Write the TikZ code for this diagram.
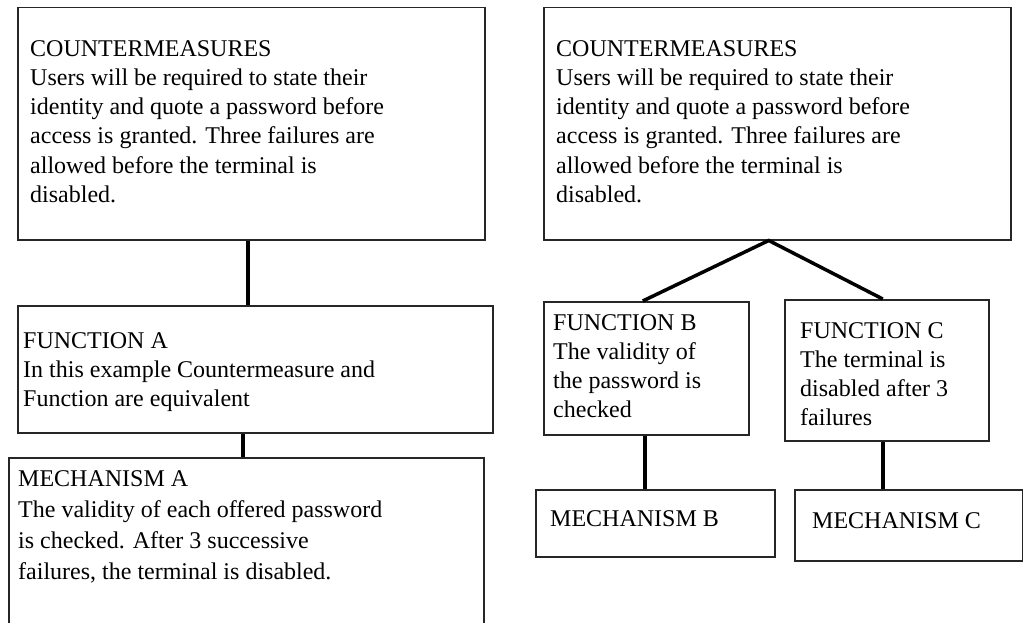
\documentclass[tikz,border=0pt]{standalone}
\usepackage{fontspec}
\setmainfont{Liberation Serif}
\begin{document}
\begin{tikzpicture}[x=1pt,y=1pt,
  box/.style={draw=black!85, line width=1.5pt, inner sep=0pt, anchor=north west},
  txt/.style={inner sep=0pt, anchor=north west, align=left, font=\fontsize{24}{29.3}\selectfont},
  link/.style={draw=black, line width=3.5pt}]
\useasboundingbox (0,0) rectangle (1023,-623);
% boxes
\node[box, minimum width=467, minimum height=232] (cml) at (17,-7) {};
\node[box, minimum width=467, minimum height=232] (cmr) at (543,-7) {};
\node[box, minimum width=475, minimum height=127] (fa) at (17,-305) {};
\node[box, minimum width=475, minimum height=260] (ma) at (8,-457) {};
\node[box, minimum width=205, minimum height=133] (fb) at (543,-301) {};
\node[box, minimum width=204, minimum height=141] (fc) at (784,-299) {};
\node[box, minimum width=239, minimum height=67] (mb) at (535,-489) {};
\node[box, minimum width=228, minimum height=71] (mc) at (794,-489) {};
% texts
\node[txt] (tcml) at ([shift={(13,-33)}]cml.north west) {COUNTERMEASURES\\Users will be required to state their\\identity and quote a password before\\access is granted. Three failures are\\allowed before the terminal is\\disabled.};
\node[txt] (tcmr) at ([shift={(13,-33)}]cmr.north west) {COUNTERMEASURES\\Users will be required to state their\\identity and quote a password before\\access is granted. Three failures are\\allowed before the terminal is\\disabled.};
\node[txt] (tfa) at ([shift={(6,-27)}]fa.north west) {FUNCTION A\\In this example Countermeasure and\\Function are equivalent};
\node[txt, font=\fontsize{24}{31}\selectfont] (tma) at ([shift={(10,-13)}]ma.north west) {MECHANISM A\\The validity of each offered password\\is checked. After 3 successive\\failures, the terminal is disabled.};
\node[txt] (tfb) at ([shift={(10,-13)}]fb.north west) {FUNCTION B\\The validity of\\the password is\\checked};
\node[txt] (tfc) at ([shift={(16,-23)}]fc.north west) {FUNCTION C\\The terminal is\\disabled after 3\\failures};
\node[txt] (tmb) at ([shift={(15,-21)}]mb.north west) {MECHANISM B};
\node[txt] (tmc) at ([shift={(18,-23)}]mc.north west) {MECHANISM C};
% connectors
\draw[link] ([xshift=-3.5pt]cml.south) -- ([xshift=-3.5pt]cml.south |- fa.north);
\draw[link] ([xshift=-12.5pt]fa.south) -- ([xshift=-12.5pt]fa.south |- ma.north);
\coordinate (apex) at ([xshift=-8.5pt]cmr.south);
\draw[link, line join=miter] ([xshift=-3.5pt]fb.north) -- (apex) -- ([xshift=-4pt]fc.north);
\draw[link] ([xshift=-1.5pt]fb.south) -- ([xshift=-1.5pt]fb.south |- mb.north);
\draw[link] ([xshift=-4pt]fc.south) -- ([xshift=-4pt]fc.south |- mc.north);
\end{tikzpicture}
\end{document}
